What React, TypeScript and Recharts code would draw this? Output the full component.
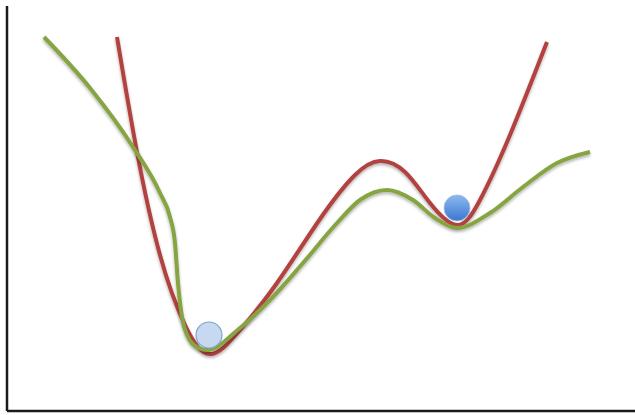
import { LineChart, Line, XAxis, YAxis, Scatter, ReferenceLine } from "recharts"

// x positions and heights above the bottom axis
const redX = [117, 137, 160, 185, 210, 240, 277, 320, 355, 380, 405, 430, 457, 480, 510, 547]
const redY = [374, 259, 156, 86, 57, 81, 128, 192, 236, 250, 239, 208, 186, 211, 276, 369]

const greenX = [44, 90, 133, 160, 170, 175, 178, 182, 187, 197, 207, 240, 270, 303, 337, 360, 387, 413, 435, 457, 490, 523, 557, 590]
const greenY = [374, 323, 264, 218, 194, 168, 128, 94, 76, 64, 61, 83, 111, 148, 188, 211, 221, 211, 193, 183, 198, 224, 248, 259]

const ballX = [209, 457]
const ballY = [76, 203]
const ballKind = ["light", "dark"]

const red = redX.map((x, i) => ({ x, y: redY[i] }))
const green = greenX.map((x, i) => ({ x, y: greenY[i] }))
const balls = ballX.map((x, i) => ({ x, y: ballY[i], kind: ballKind[i] }))

const Ball = (props: any) => {
  const { cx, cy, payload } = props
  if (payload.kind === "light") {
    return <circle cx={cx} cy={cy} r={13} fill="#c6d9f1" stroke="#7fa3d6" strokeWidth={1.2} />
  }
  return <circle cx={cx} cy={cy} r={13} fill="url(#ballGrad)" stroke="#9bbce6" strokeWidth={1} />
}

export default function App() {
  return (
    <div style={{ position: "absolute", left: 0, top: 0, width: 635, height: 415, background: "#fff" }}>
      <LineChart width={635} height={415} margin={{ top: 6, right: 0, bottom: 4, left: 7 }}>
        <defs>
          <filter id="shade" x="-10%" y="-10%" width="120%" height="130%">
            <feDropShadow dx="0" dy="2" stdDeviation="1.5" floodColor="#000" floodOpacity="0.3" />
          </filter>
          <linearGradient id="ballGrad" x1="0" y1="0" x2="0" y2="1">
            <stop offset="0%" stopColor="#8cb8ef" />
            <stop offset="100%" stopColor="#3b77cf" />
          </linearGradient>
        </defs>
        <XAxis type="number" dataKey="x" domain={[7, 635]} hide />
        <YAxis type="number" dataKey="y" domain={[0, 405]} hide />
        <ReferenceLine x={7} stroke="#1a1a1a" strokeWidth={2.5} />
        <ReferenceLine y={0} stroke="#1a1a1a" strokeWidth={2.5} />
        <Line data={red} dataKey="y" type="natural" stroke="#b2433f" strokeWidth={4} dot={false}
          isAnimationActive={false} filter="url(#shade)" />
        <Line data={green} dataKey="y" type="monotone" stroke="#87a443" strokeWidth={4} dot={false}
          isAnimationActive={false} filter="url(#shade)" />
        <Scatter data={balls} dataKey="y" shape={Ball} isAnimationActive={false} />
      </LineChart>
    </div>
  )
}
